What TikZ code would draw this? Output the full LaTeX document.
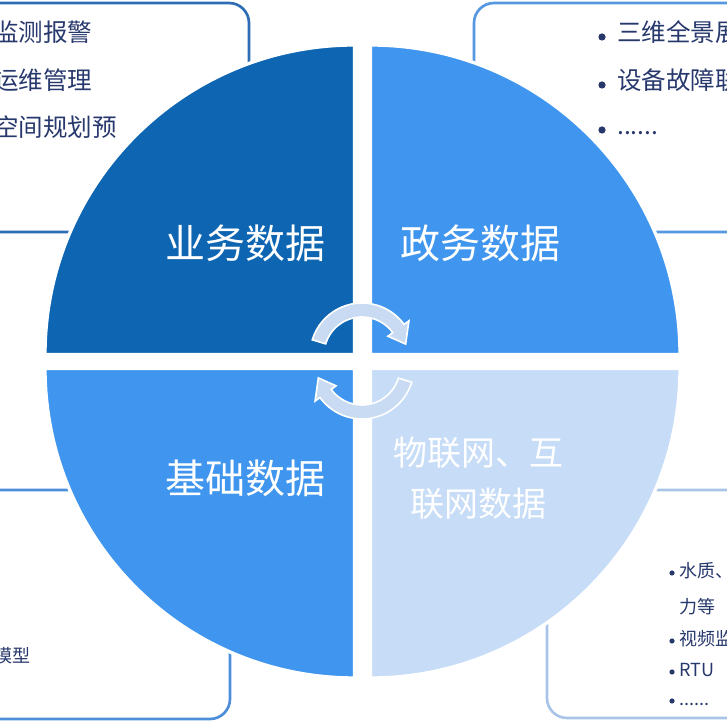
\documentclass[tikz,border=0pt]{standalone}
\usepackage{fontspec}
\setmainfont{Noto Sans CJK SC}
\usepackage{tikz}
\usetikzlibrary{calc}
\definecolor{cazulosc}{HTML}{0E66B2}
\definecolor{cazul}{HTML}{4096EE}
\definecolor{cazulcla}{HTML}{C6DCF7}
\definecolor{ctexto}{HTML}{27386C}
\definecolor{cborde1}{HTML}{2D6DB4}
\definecolor{cborde2}{HTML}{5597E0}
\definecolor{cborde3}{HTML}{4C8ED9}
\definecolor{cborde4}{HTML}{A9C4E7}
\definecolor{cflecha}{HTML}{C8DBF3}
\tikzset{
  marco/.style={rounded corners=15pt, line width=2pt},
  cuadrante/.style={draw=white, line width=2.5pt},
  item/.style={inner sep=0pt, anchor=west, text=ctexto, font=\fontsize{18.4}{22}\selectfont,
    text height=0.86em, text depth=0.14em},
  itemp/.style={item, font=\fontsize{13.5}{16}\selectfont},
  etq/.style={inner sep=0pt, text=white, align=center, font=\fontsize{30}{36}\selectfont},
  flecha/.style={fill=cflecha, draw=white, line width=1.2pt},
  vineta/.style={fill=ctexto},
}
\begin{document}
\begin{tikzpicture}[x=0.75pt, y=0.75pt]
  \useasboundingbox (0,0) rectangle (727,728);
  \clip (0,0) rectangle (727,728);
  \draw[marco, draw=cborde1] (-40,496) rectangle (249,725);
  \draw[marco, draw=cborde2] (474,496) rectangle (780,725);
  \draw[marco, draw=cborde3] (-40,9) rectangle (230,238);
  \draw[marco, draw=cborde4] (547,10) rectangle (780,238);
  \node[item] (a1) at (-6,691) {监测报警};
  \node[item] (a2) at (-6,643) {运维管理};
  \node[item] (a3) at (-6,596) {空间规划预};
  \node[item] (b1) at (617,691) {三维全景展};
  \node[item] (b2) at (617,643) {设备故障联};
  \node[item] (b3) at (617,598) {......};
  \foreach \n in {b1,b2,b3}
    \fill[vineta] ($(\n.west)+(-15,0)$) circle (3.6);
  \node[itemp, anchor=east] (c1) at (31,70) {模型};
  \node[itemp] (d1) at (679,155) {水质、};
  \node[itemp] (d2) at (679,119) {力等};
  \node[itemp] (d3) at (679,87) {视频监};
  \node[itemp] (d4) at (679,56) {RTU};
  \node[itemp] (d5) at (679,27) {......};
  \foreach \n in {d1,d3,d4,d5}
    \fill[vineta] ($(\n.west)+(-7,0)$) circle (2.6);
  \filldraw[cuadrante, fill=cazulosc] (354.5,373.5) -- ++(-309.5,0) arc[start angle=180, end angle=90, radius=309.5] -- cycle;
  \filldraw[cuadrante, fill=cazul] (370.5,373.5) -- ++(0,309.5) arc[start angle=90, end angle=0, radius=309.5] -- cycle;
  \filldraw[cuadrante, fill=cazul] (354.5,359.5) -- ++(0,-309.5) arc[start angle=270, end angle=180, radius=309.5] -- cycle;
  \filldraw[cuadrante, fill=cazulcla] (370.5,359.5) -- ++(309.5,0) arc[start angle=0, end angle=-90, radius=309.5] -- cycle;
  \foreach \cy/\g in {373/0,361/180} {
    \coordinate (gc) at (362,\cy);
    \draw[flecha] ($(gc)+({163+\g}:52)$) arc[start angle=163+\g, end angle=36+\g, radius=52]
      -- ($(gc)+({36+\g}:58)$) -- ($(gc)+({14+\g}:45)$) -- ($(gc)+({36+\g}:32)$)
      -- ($(gc)+({36+\g}:38)$) arc[start angle=36+\g, end angle=163+\g, radius=38] -- cycle;
  }
  \node[etq] (negocio) at (245,485) {业务数据};
  \node[etq] (gobierno) at (480,485) {政务数据};
  \node[etq] (basicos) at (245,250) {基础数据};
  \node[etq, font=\fontsize{25.5}{38}\selectfont] (iot) at (478,250) {物联网、互\\联网数据};
\end{tikzpicture}
\end{document}
